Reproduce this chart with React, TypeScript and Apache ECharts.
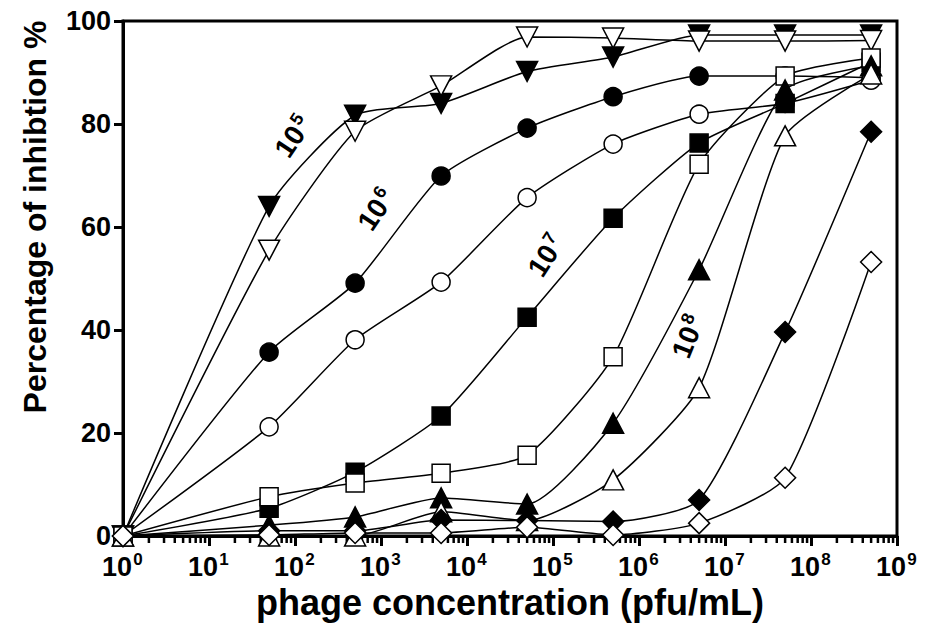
import React, { useEffect, useRef } from "react";
import * as echarts from "echarts";

const concentrations = [1, 50, 500, 5000, 5e4, 5e5, 5e6, 5e7, 5e8];

const filledDown = [0, 64, 81.7, 84, 90.2, 93, 97.3, 97.3, 97.3];
const openDown = [0, 55.5, 78.6, 87.4, 96.9, 96.7, 96.1, 96.1, 96.2];
const filledCircle = [0, 35.7, 49.1, 69.9, 79.2, 85.3, 89.3, 89.3, 89];
const openCircle = [0, 21.2, 38.1, 49.3, 65.7, 76.1, 81.9, 84, 88.5];
const filledSquare = [0, 5.4, 12.4, 23.3, 42.5, 61.7, 76.3, 84, 92];
const openSquare = [0, 7.6, 10.3, 12.2, 15.7, 34.8, 72.2, 89.3, 92.8];
const filledUp = [0, 2.1, 3.7, 7.4, 6.2, 21.9, 51.7, 86.6, 91.3];
const openUp = [0, 0, 0, 4.7, 3, 10.9, 28.8, 77.7, 89.7];
const filledDiamond = [0, 1, 1, 3.1, 3, 2.8, 7, 39.6, 78.5];
const openDiamond = [0, 0.2, 0.6, 0.6, 1.7, 0.2, 2.5, 11.3, 53.2];

const yTicks = [0, 20, 40, 60, 80, 100];
const minorMultipliers = [2, 3, 4, 5, 6, 7, 8, 9];
const decades = [0, 1, 2, 3, 4, 5, 6, 7, 8];

const annotations = [
  { exp: "5", x: 293, y: 137, angle: 56 },
  { exp: "6", x: 376, y: 210, angle: 56 },
  { exp: "7", x: 546, y: 256, angle: 57 },
  { exp: "8", x: 688, y: 337, angle: 68 },
];

const FONT = "Liberation Sans, Arial, Helvetica, sans-serif";

export default function App() {
  const ref = useRef<HTMLDivElement>(null);
  useEffect(() => {
    if (!ref.current) return;
    const chart = echarts.init(ref.current, null, { renderer: "svg" });

    const mk = (
      name: string,
      vals: number[],
      symbol: string,
      filled: boolean,
      size: number | number[],
      rotate = 0
    ) => ({
      name,
      type: "line",
      data: concentrations.map((c, i) => [c, vals[i]]),
      symbol,
      symbolSize: size,
      symbolRotate: rotate,
      showAllSymbol: true,
      smooth: 0.2,
      lineStyle: { color: "#000", width: 1.5 },
      itemStyle: {
        color: filled ? "#000" : "#fff",
        borderColor: "#000",
        borderWidth: 1.5,
        opacity: 1,
      },
      z: 3,
      clip: false,
      silent: true,
    });

    const minorVals: number[][] = [];
    decades.forEach((d) => {
      minorMultipliers.forEach((m) => minorVals.push([m * Math.pow(10, d), 0]));
    });

    const baseX = {
      type: "log",
      logBase: 10,
      min: 1,
      max: 1e9,
      splitNumber: 9,
      position: "bottom",
      offset: 0,
      splitLine: { show: false },
    };

    const option: any = {
      animation: false,
      backgroundColor: "#fff",
      grid: {
        left: 123,
        right: 29,
        top: 21,
        bottom: 96,
        show: true,
        borderColor: "#000",
        borderWidth: 3,
        backgroundColor: "transparent",
      },
      xAxis: [
        {
          ...baseX,
          name: "phage concentration (pfu/mL)",
          nameLocation: "middle",
          nameGap: 37,
          nameTextStyle: { fontSize: 36, fontWeight: "bold", fontFamily: FONT, color: "#000", verticalAlign: "top" },
          axisLine: { show: true, lineStyle: { color: "#000", width: 3 } },
          axisTick: { show: true, inside: false, length: 10, lineStyle: { color: "#000", width: 3 } },
          axisLabel: {
            margin: 17,
            fontSize: 27,
            fontWeight: "bold",
            fontFamily: FONT,
            color: "#000",
            padding: [0, 12, 0, 0],
            formatter: () => "10",
          },
        },
        {
          ...baseX,
          axisLine: { show: false },
          axisTick: { show: false },
          axisLabel: {
            margin: 15,
            fontSize: 17,
            fontWeight: "bold",
            fontFamily: FONT,
            color: "#000",
            padding: [0, 0, 0, 30],
            formatter: (v: number) => String(Math.round(Math.log10(v))),
          },
        },
      ],
      yAxis: {
        type: "value",
        min: 0,
        max: 100,
        interval: 20,
        axisLine: { show: true, lineStyle: { color: "#000", width: 3 } },
        axisTick: { show: true, inside: false, length: 9, lineStyle: { color: "#000", width: 3 } },
        splitLine: { show: false },
        axisLabel: {
          margin: 12,
          fontSize: 27,
          fontWeight: "bold",
          fontFamily: FONT,
          color: "#000",
          formatter: (v: number) => (yTicks.includes(v) ? String(v) : ""),
        },
      },
      graphic: [
        {
          type: "text",
          x: 35,
          y: 217,
          rotation: Math.PI / 2,
          style: {
            text: "Percentage of inhibtion %",
            fontSize: 32,
            fontWeight: "bold",
            fontFamily: FONT,
            fill: "#000",
            align: "center",
            verticalAlign: "middle",
          },
        },
        ...annotations.map((a) => ({
          type: "group",
          x: a.x,
          y: a.y,
          rotation: (a.angle * Math.PI) / 180,
          z: 10,
          children: [
            {
              type: "text",
              x: 10,
              y: 0,
              style: {
                text: "10",
                fontSize: 28,
                fontWeight: "bold",
                fontFamily: FONT,
                fill: "#000",
                align: "right",
                verticalAlign: "middle",
              },
            },
            {
              type: "text",
              x: 12,
              y: -7,
              style: {
                text: a.exp,
                fontSize: 18,
                fontWeight: "bold",
                fontFamily: FONT,
                fill: "#000",
                align: "left",
                verticalAlign: "middle",
              },
            },
          ],
        })),
      ],
      series: [
        {
          name: "minorTicks",
          type: "custom",
          silent: true,
          clip: false,
          z: 1,
          data: minorVals,
          renderItem: (params: any, api: any) => {
            const p = api.coord([api.value(0), 0]);
            return {
              type: "line",
              shape: { x1: p[0], y1: p[1], x2: p[0], y2: p[1] + 7 },
              style: { stroke: "#000", lineWidth: 2.5 },
            };
          },
        },
        mk("filledDown", filledDown, "triangle", true, [21, 20], 180),
        mk("openDown", openDown, "triangle", false, [21, 20], 180),
        mk("filledCircle", filledCircle, "circle", true, 18),
        mk("openCircle", openCircle, "circle", false, 18),
        mk("filledSquare", filledSquare, "rect", true, 18),
        mk("openSquare", openSquare, "rect", false, 18),
        mk("filledUp", filledUp, "triangle", true, [21, 20]),
        mk("openUp", openUp, "triangle", false, [21, 20]),
        mk("filledDiamond", filledDiamond, "diamond", true, 21),
        mk("openDiamond", openDiamond, "diamond", false, 21),
      ],
    };
    chart.setOption(option);
    return () => chart.dispose();
  }, []);
  return <div ref={ref} style={{ width: 926, height: 632, position: "absolute", left: 0, top: 0 }} />;
}
